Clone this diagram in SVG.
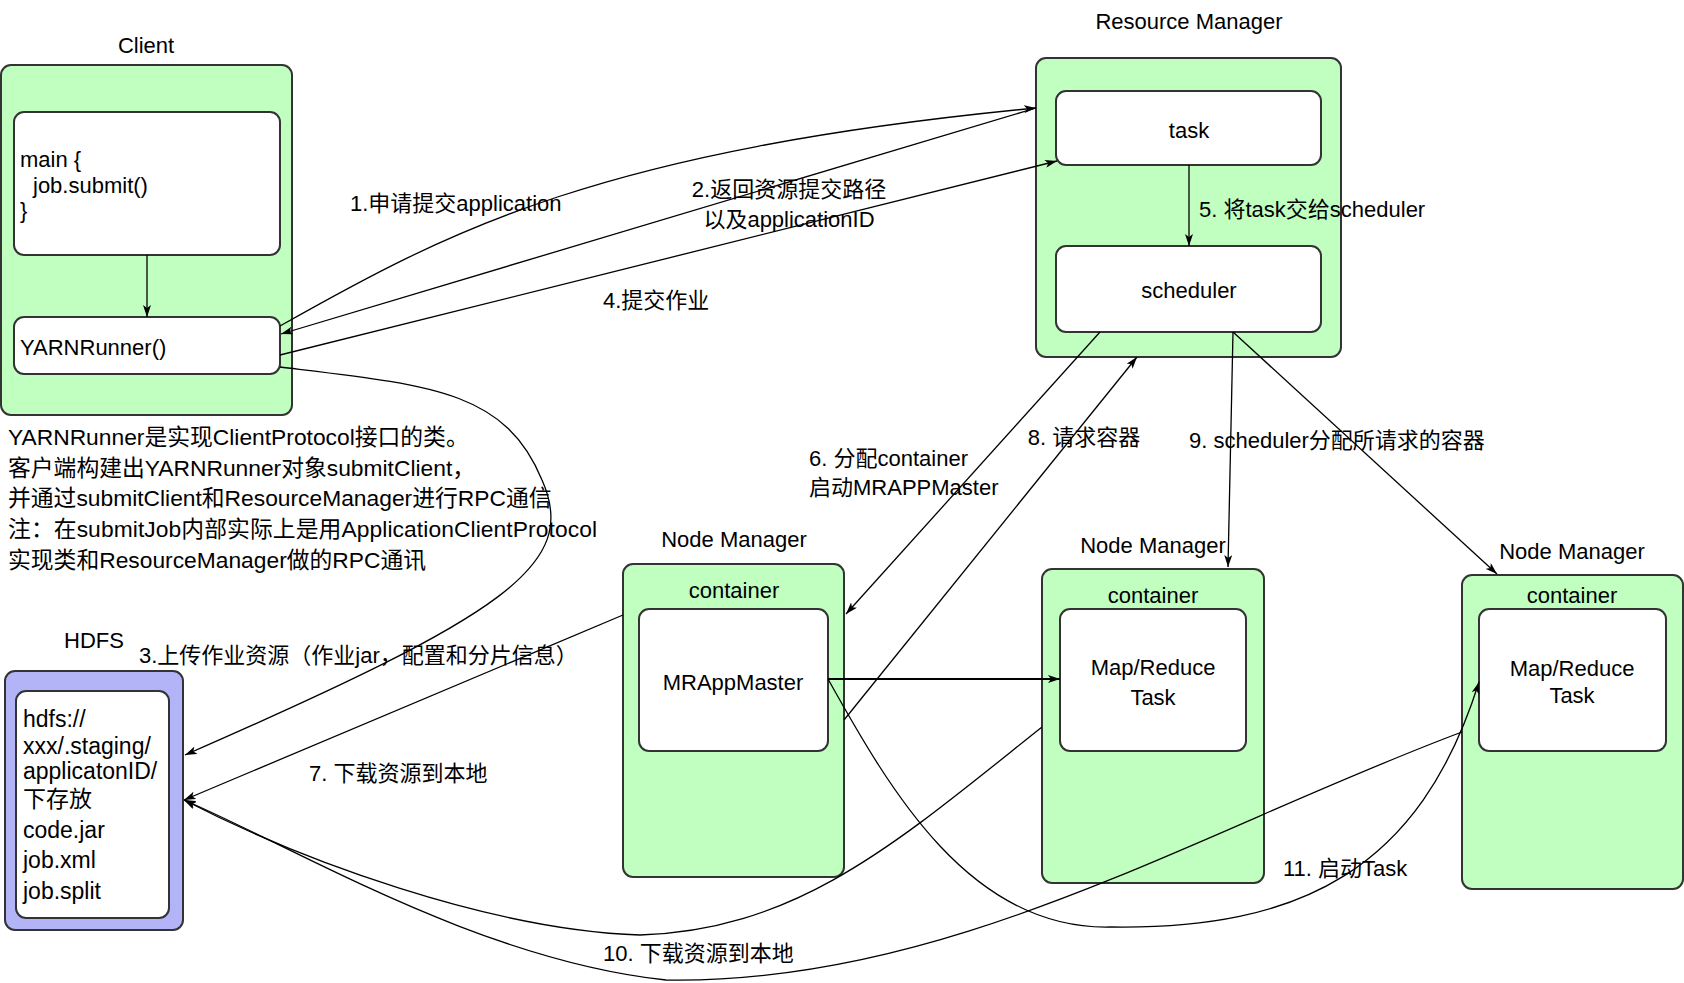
<svg xmlns="http://www.w3.org/2000/svg" width="1684" height="983" viewBox="0 0 1684 983">
<style>
text{font-family:"Liberation Sans","Noto Sans CJK SC",sans-serif;font-size:22px;fill:#000}
.m{text-anchor:middle}
.d{font-size:22.8px}
.h{font-size:23px}
.grn{fill:#c0ffc0;stroke:#333;stroke-width:2}
.wht{fill:#fff;stroke:#333;stroke-width:2}
.pur{fill:#b3b3f7;stroke:#333;stroke-width:2}
.ln{fill:none;stroke:#000;stroke-width:1.3}
</style>
<defs>
<marker id="ar" viewBox="0 0 12 8" refX="12" refY="4" markerWidth="12" markerHeight="8" markerUnits="userSpaceOnUse" orient="auto">
<path d="M0,0 L12,4 L0,8 L3,4 z" fill="#000"/>
</marker>
</defs>
<rect width="1684" height="983" fill="#fff"/>

<g id="client">
<text class="m" x="146" y="53">Client</text>
<rect class="grn" x="1" y="65" width="291" height="350" rx="10"/>
</g>
<g id="main">
<rect class="wht" x="14" y="112" width="266" height="143" rx="10"/>
<text x="20" y="167">main {</text>
<text x="33" y="193">job.submit()</text>
<text x="20" y="218">}</text>
</g>
<g id="yarnrunner">
<rect class="wht" x="14" y="317" width="266" height="57" rx="10"/>
<text x="20" y="355">YARNRunner()</text>
</g>
<g id="desc">
<text class="d" x="8" y="445">YARNRunner是实现ClientProtocol接口的类。</text>
<text class="d" x="8" y="476">客户端构建出YARNRunner对象submitClient，</text>
<text class="d" x="8" y="506">并通过submitClient和ResourceManager进行RPC通信</text>
<text class="d" x="8" y="537" textLength="589" lengthAdjust="spacing">注：在submitJob内部实际上是用ApplicationClientProtocol</text>
<text class="d" x="8" y="568">实现类和ResourceManager做的RPC通讯</text>
</g>

<g id="rm">
<text class="m" x="1189" y="29">Resource Manager</text>
<rect class="grn" x="1036" y="58" width="305" height="299" rx="10"/>
</g>
<g id="task">
<rect class="wht" x="1056" y="91" width="265" height="74" rx="10"/>
<text class="m" x="1189" y="138">task</text>
</g>
<g id="scheduler">
<rect class="wht" x="1056" y="246" width="265" height="86" rx="10"/>
<text class="m" x="1189" y="298">scheduler</text>
</g>

<g id="hdfs">
<text class="m" x="94" y="648">HDFS</text>
<rect class="pur" x="5" y="671" width="178" height="259" rx="10"/>
<rect class="wht" x="16" y="691" width="153" height="227" rx="10"/>
<text class="h" x="23" y="727">hdfs://</text>
<text class="h" x="23" y="754">xxx/.staging/</text>
<text class="h" x="23" y="779">applicatonID/</text>
<text class="h" x="23" y="807">下存放</text>
<text class="h" x="23" y="838">code.jar</text>
<text class="h" x="23" y="868">job.xml</text>
<text class="h" x="23" y="899">job.split</text>
</g>

<g id="nm1">
<text class="m" x="734" y="547">Node Manager</text>
<rect class="grn" x="623" y="564" width="221" height="313" rx="10"/>
<text class="m" x="734" y="598">container</text>
</g>
<g id="mrappmaster">
<rect class="wht" x="639" y="609" width="189" height="142" rx="10"/>
<text class="m" x="733" y="690">MRAppMaster</text>
</g>
<g id="nm2">
<text class="m" x="1153" y="553">Node Manager</text>
<rect class="grn" x="1042" y="569" width="222" height="314" rx="10"/>
<text class="m" x="1153" y="603">container</text>
</g>
<g id="task2">
<rect class="wht" x="1060" y="609" width="186" height="142" rx="10"/>
<text class="m" x="1153" y="675">Map/Reduce</text>
<text class="m" x="1153" y="705">Task</text>
</g>
<g id="nm3">
<text class="m" x="1572" y="559">Node Manager</text>
<rect class="grn" x="1462" y="575" width="221" height="314" rx="10"/>
<text class="m" x="1572" y="603">container</text>
</g>
<g id="task3">
<rect class="wht" x="1479" y="609" width="187" height="142" rx="10"/>
<text class="m" x="1572" y="676">Map/Reduce</text>
<text class="m" x="1572" y="703">Task</text>
</g>

<g id="connectors">
<path class="ln" d="M147,255 L147,317" marker-end="url(#ar)"/>
<path class="ln" d="M280,326 C450,230 600,150 1036,108" marker-end="url(#ar)"/>
<path class="ln" d="M1036,108 L281,334" marker-end="url(#ar)"/>
<path class="ln" d="M280,367 C430,385 505,390 542,480 C580,565 505,615 185,755" marker-end="url(#ar)"/>
<path class="ln" d="M280,355 L1057,161" marker-end="url(#ar)"/>
<path class="ln" d="M1189,165 L1189,246" marker-end="url(#ar)"/>
<path class="ln" d="M1100,332 L846,614" marker-end="url(#ar)"/>
<path class="ln" d="M844,720 L1137,357" marker-end="url(#ar)"/>
<path class="ln" d="M1233,332 L1228,567" marker-end="url(#ar)"/>
<path class="ln" d="M1233,332 L1497,574" marker-end="url(#ar)"/>
<path class="ln" style="stroke-width:2" d="M828,679 L1060,679" marker-end="url(#ar)"/>
<path class="ln" d="M623,615 L184,800" marker-end="url(#ar)"/>
<path class="ln" d="M1042,727 C900,840 800,930 640,935 C490,930 300,860 184,800" marker-end="url(#ar)"/>
<path class="ln" d="M1462,732 C1200,830 950,985 666,980 C480,960 300,850 184,800" marker-end="url(#ar)"/>
<path class="ln" d="M828,679 C890,790 970,930 1110,927 C1300,930 1420,870 1479,682" marker-end="url(#ar)"/>
<text x="350" y="211">1.申请提交application</text>
<text class="m" x="789" y="197">2.返回资源提交路径</text>
<text class="m" x="789" y="227">以及applicationID</text>
<text x="603" y="308">4.提交作业</text>
<text x="1199" y="217">5. 将task交给scheduler</text>
<text x="139" y="663">3.上传作业资源（作业jar，配置和分片信息）</text>
<text x="809" y="466">6. 分配container</text>
<text x="809" y="495">启动MRAPPMaster</text>
<text class="m" x="1084" y="445">8. 请求容器</text>
<text x="1189" y="448">9. scheduler分配所请求的容器</text>
<text x="309" y="781">7. 下载资源到本地</text>
<text x="603" y="961">10. 下载资源到本地</text>
<text x="1283" y="876">11. 启动Task</text>
</g>
</svg>
